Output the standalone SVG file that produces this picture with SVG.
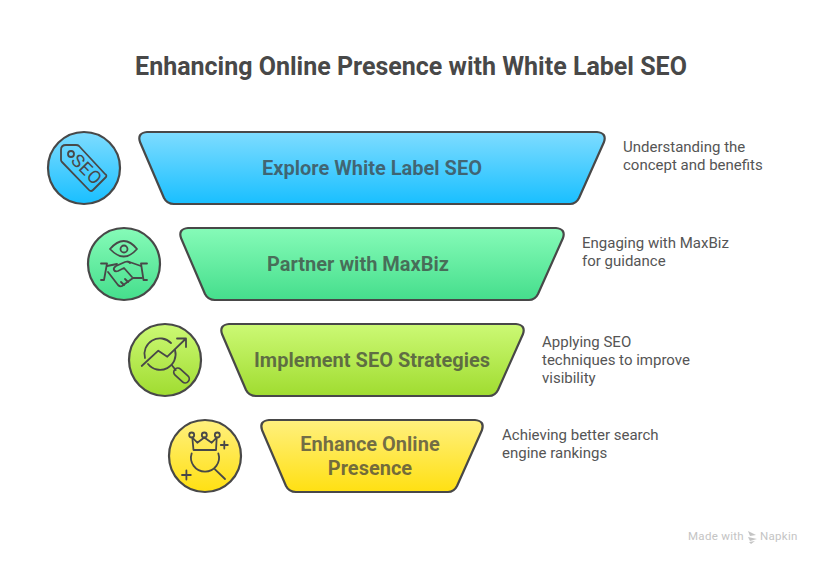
<svg xmlns="http://www.w3.org/2000/svg" width="821" height="564" viewBox="0 0 821 564">
<style>
text{font-family:Roboto,"Liberation Sans",sans-serif}
.t{font-size:25px;font-weight:700;fill:#484848}
.l{font-size:20px;font-weight:700;text-anchor:middle;fill-opacity:.72;fill:#3d3d3d}
.d{font-size:15px;fill:#555}
.s{stroke:#484848;stroke-width:2.200;stroke-linejoin:round}
.i{fill:none;stroke:#484848;stroke-width:1.800;stroke-linecap:round;stroke-linejoin:round}
.w{font-size:11.500px;fill:#c4c4c4;letter-spacing:.3px}
</style>
<defs>
<linearGradient id="b" x1="0" y1="0" x2="0" y2="1"><stop offset="0" stop-color="#7edcff"/><stop offset="1" stop-color="#19bfff"/></linearGradient>
<linearGradient id="g" x1="0" y1="0" x2="0" y2="1"><stop offset="0" stop-color="#86fbb8"/><stop offset="1" stop-color="#45de8c"/></linearGradient>
<linearGradient id="l" x1="0" y1="0" x2="0" y2="1"><stop offset="0" stop-color="#ccf975"/><stop offset="1" stop-color="#a0dc30"/></linearGradient>
<linearGradient id="y" x1="0" y1="0" x2="0" y2="1"><stop offset="0" stop-color="#fff07e"/><stop offset="1" stop-color="#ffe012"/></linearGradient>
</defs>
<rect width="821" height="564" fill="#fff"/>
<text class="t" x="411" y="74.500" text-anchor="middle">Enhancing Online Presence with White Label SEO</text>
<g id="connectors"/>

<g id="node-1">
<circle class="s" cx="84" cy="168" r="36" fill="url(#b)"/>
<g class="i"><path d="M61 150L61 160Q61 161 62 162L89 190Q91 192 93 190L106 177Q107 175 105 174L79 146Q78 145 76 145L66 145Q61 145 61 150Z"/><circle cx="71" cy="154" r="3"/></g>
<text x="0" y="6" transform="translate(86.500 169.500) rotate(45)" text-anchor="middle" style="font-size:18px;font-weight:400;fill:#484848;letter-spacing:.5px">SEO</text>
<path class="s" d="M147 132H597Q607 133 604 142L579 198Q576 204 570 204H174Q167 204 164 198L140 142Q137 133 147 132Z" fill="url(#b)"/>
<text class="l" x="372" y="174.500">Explore White Label SEO</text>
<text class="d" x="623" y="151.500">Understanding the</text><text class="d" x="623" y="169.500">concept and benefits</text>
</g>

<g id="node-2">
<circle class="s" cx="124" cy="264" r="36" fill="url(#g)"/>
<g class="i"><path d="M110 249Q124 233 137 249Q124 264 110 249Z"/><circle cx="124" cy="249" r="3.500"/>
<path d="M101 263.500H107L104 280H101M147 263.500H141L143.500 280H147"/>
<path d="M107 266L117 264M128 261.500L141 266M142 278H133L122 286Q120 287 118 285L108 272"/>
<path d="M132 277L124 268L118 271Q115 272 114 270Q113 268 116 266L125 262Q128 261 130 263"/>
<path d="M128 282L125 279M124 285L121 282"/></g>
<path class="s" d="M188 228H556Q566 229 563 238L538 294Q535 300 529 300H215Q208 300 205 294L181 238Q178 229 188 228Z" fill="url(#g)"/>
<text class="l" x="358" y="270.500">Partner with MaxBiz</text>
<text class="d" x="582" y="247.500">Engaging with MaxBiz</text><text class="d" x="582" y="265.500">for guidance</text>
</g>

<g id="node-3">
<circle class="s" cx="165" cy="360" r="36" fill="url(#l)"/>
<g class="i"><path d="M141.700 366L158.300 350.700L167.300 356.700L185.500 339M177 338.500H186V347"/><path d="M145 358A15.500 15.500 0 0 1 171 343M148 364A15.500 15.500 0 0 0 175 350"/><path d="M171.700 365L175.700 370"/><rect x="-4" y="-9" width="8" height="18" rx="4" transform="translate(181.500 375.500) rotate(-48)"/></g>
<path class="s" d="M229 324H516Q526 325 523 334L498 390Q495 396 489 396H256Q249 396 246 390L222 334Q219 325 229 324Z" fill="url(#l)"/>
<text class="l" x="372" y="366.500">Implement SEO Strategies</text>
<text class="d" x="542" y="346.500">Applying SEO</text><text class="d" x="542" y="364.500">techniques to improve</text><text class="d" x="542" y="382.500">visibility</text>
</g>

<g id="node-4">
<circle class="s" cx="205" cy="456" r="36" fill="url(#y)"/>
<g class="i"><circle cx="191.700" cy="435" r="2.500"/><circle cx="204.300" cy="435" r="2.500"/><circle cx="217.300" cy="435" r="2.500"/>
<path d="M192.300 437.500L193.500 450H216L216.700 437.500L211.700 442.700L204.300 437.500L197.300 442.700Z"/>
<path d="M191.700 453.300A14 14 0 1 0 218.300 453.300"/><path d="M215 469.300L225 479"/><path d="M220.800 445H227.800M224.300 441.500V448.500"/><path d="M182 475H190.800M186.400 470.500V479.500"/></g>
<path class="s" d="M269 420H475Q485 421 482 430L457 486Q454 492 448 492H296Q289 492 286 486L262 430Q259 421 269 420Z" fill="url(#y)"/>
<text class="l" x="370" y="450.500">Enhance Online</text><text class="l" x="370" y="474.500">Presence</text>
<text class="d" x="502" y="439.500">Achieving better search</text><text class="d" x="502" y="457.500">engine rankings</text>
</g>

<g id="watermark" fill="#c4c4c4">
<text class="w" x="688" y="540">Made with</text>
<path d="M748 531L756 535L750 536ZM748 537L757 539L750 541ZM749 542L755 541L751 544Z"/>
<text class="w" x="760" y="540">Napkin</text>
</g>
</svg>
